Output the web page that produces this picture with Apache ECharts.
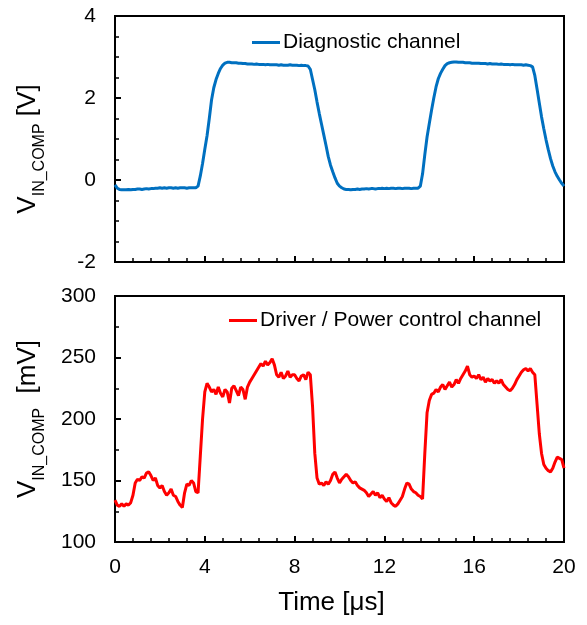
<!DOCTYPE html>
<html><head><meta charset="utf-8">
<script src="https://cdn.jsdelivr.net/npm/echarts@6/dist/echarts.min.js"></script>
<style>html,body{margin:0;padding:0;background:#fff}#c{width:587px;height:625px}</style>
</head><body><div id="c"></div><script>
// sample spacing of the traces, in µs (time of sample i = i * timeStep)
const timeStep = 0.1;

// Diagnostic channel, V_IN_COMP [V]
const diagnostic = [
-0.12,-0.2,-0.23,-0.24,-0.24,-0.24,-0.23,-0.24,-0.23,-0.23,
-0.22,-0.22,-0.23,-0.22,-0.21,-0.22,-0.21,-0.21,-0.2,-0.2,
-0.19,-0.2,-0.19,-0.2,-0.19,-0.19,-0.2,-0.19,-0.2,-0.19,
-0.19,-0.19,-0.2,-0.19,-0.19,-0.19,-0.19,-0.15,0.1,0.4,
0.75,1.08,1.5,1.95,2.25,2.45,2.6,2.72,2.8,2.85,
2.87,2.87,2.86,2.86,2.86,2.85,2.85,2.84,2.84,2.83,
2.83,2.83,2.82,2.83,2.82,2.82,2.82,2.81,2.82,2.81,
2.81,2.81,2.81,2.8,2.81,2.8,2.8,2.8,2.81,2.8,
2.8,2.8,2.79,2.8,2.79,2.79,2.78,2.7,2.45,2.2,
1.9,1.62,1.36,1.1,0.84,0.57,0.36,0.2,0.05,-0.08,
-0.15,-0.19,-0.22,-0.23,-0.23,-0.24,-0.23,-0.23,-0.22,-0.23,
-0.22,-0.22,-0.21,-0.22,-0.21,-0.21,-0.22,-0.21,-0.21,-0.2,
-0.21,-0.2,-0.21,-0.2,-0.2,-0.21,-0.2,-0.2,-0.21,-0.2,
-0.2,-0.2,-0.21,-0.2,-0.2,-0.2,-0.15,0.15,0.62,1.05,
1.38,1.7,2.0,2.27,2.47,2.6,2.7,2.79,2.84,2.86,
2.87,2.88,2.88,2.87,2.87,2.87,2.86,2.86,2.86,2.85,
2.85,2.85,2.85,2.84,2.84,2.84,2.83,2.84,2.83,2.83,
2.83,2.82,2.83,2.82,2.82,2.82,2.81,2.82,2.81,2.81,
2.81,2.81,2.8,2.81,2.8,2.79,2.76,2.55,2.22,1.88,
1.54,1.25,0.98,0.74,0.52,0.34,0.2,0.09,0.0,-0.08,
-0.15
];

// Driver / Power control channel, V_IN_COMP [mV]
const driver = [
134,130,129,131,129,131,130,132,138,148,
151,150,153,152,156,157,154,150,152,146,
144,146,141,138,140,143,138,137,133,130,
128,140,147,146,150,148,141,140,170,200,
222,229,226,222,224,220,226,221,218,224,
222,213,225,227,223,219,226,224,216,226,
230,233,236,239,242,245,243,247,244,246,
249,244,236,234,238,233,235,239,234,236,
236,233,231,235,236,232,238,236,210,172,
152,147,148,146,149,147,150,155,157,152,
148,151,153,155,153,150,148,149,146,144,
143,142,140,137,139,141,138,140,136,138,
135,133,136,132,130,129,131,134,137,143,
148,147,143,141,140,138,137,135,172,205,
215,220,221,224,222,226,228,224,227,230,
226,228,232,229,233,236,239,243,236,234,
235,233,236,232,234,230,233,231,232,229,
231,229,232,228,226,224,223,225,228,232,
235,238,240,241,239,241,238,236,212,188,
172,163,160,158,157,160,165,169,168,167,
160
];

const seriesNames = ['Diagnostic channel', 'Driver / Power control channel'];
const xRange = {min: 0, max: 20, interval: 4};
const topY = {min: -2, max: 4, interval: 2};
const bottomY = {min: 100, max: 300, interval: 50};

const FONT = '"Liberation Sans", Arial, sans-serif';
const toPairs = arr => arr.map((v, i) => [Math.round(i * timeStep * 10) / 10, v]);

function axisBase(minorSplit) {
  return {
    axisLine: {show: true, onZero: false, lineStyle: {color: '#000', width: 2}},
    axisTick: {show: true, inside: true, length: 6, lineStyle: {color: '#000', width: 2}},
    minorTick: {show: true, splitNumber: minorSplit, length: 4, lineStyle: {color: '#000', width: 1.5}},
    splitLine: {show: false},
    minorSplitLine: {show: false},
    axisLabel: {fontSize: 21, color: '#000', fontFamily: FONT}
  };
}

const richName = {
  v: {fontSize: 26, color: '#000', fontFamily: FONT},
  s: {fontSize: 16, color: '#000', fontFamily: FONT, padding: [24, 0, 0, 0]}
};

const legendBase = {
  orient: 'horizontal', itemWidth: 28, itemHeight: 3, icon: 'rect', selectedMode: false,
  padding: 0, right: 'auto', width: 'auto', height: 24,
  textStyle: {fontSize: 21, color: '#000', fontFamily: FONT, padding: [0, 0, 0, -2]}
};

const chart = echarts.init(document.getElementById('c'), null, {renderer: 'canvas'});
chart.setOption({
  animation: false,
  backgroundColor: '#fff',
  grid: [
    {left: 115, top: 16, width: 449, height: 246, show: true, borderColor: '#000', borderWidth: 2},
    {left: 115, top: 296, width: 449, height: 246, show: true, borderColor: '#000', borderWidth: 2}
  ],
  legend: [
    Object.assign({}, legendBase, {id: 'lg0', data: [seriesNames[0]], left: 252, top: 32, bottom: 569}),
    Object.assign({}, legendBase, {id: 'lg1', data: [seriesNames[1]], left: 229, top: 310, bottom: 291})
  ],
  xAxis: [
    Object.assign(axisBase(5), {type: 'value', gridIndex: 0, min: xRange.min, max: xRange.max, interval: xRange.interval,
      axisLabel: {show: false}}),
    Object.assign(axisBase(5), {type: 'value', gridIndex: 1, min: xRange.min, max: xRange.max, interval: xRange.interval,
      axisLabel: {fontSize: 21, color: '#000', fontFamily: FONT, margin: 15},
      name: 'Time [μs]', nameLocation: 'middle', nameGap: 48,
      nameTextStyle: {fontSize: 26, color: '#000', fontFamily: FONT, padding: [0, 16, 0, 0]}})
  ],
  yAxis: [
    Object.assign(axisBase(4), {type: 'value', gridIndex: 0, min: topY.min, max: topY.max, interval: topY.interval,
      axisLabel: {fontSize: 21, color: '#000', fontFamily: FONT, margin: 19},
      name: '{v|V}{s|IN_COMP}{v| [V]}', nameLocation: 'middle', nameRotate: 90, nameGap: 67,
      nameTextStyle: {rich: richName, padding: [0, 20, 0, 0]}}),
    Object.assign(axisBase(2), {type: 'value', gridIndex: 1, min: bottomY.min, max: bottomY.max, interval: bottomY.interval,
      axisLabel: {fontSize: 21, color: '#000', fontFamily: FONT, margin: 19},
      name: '{v|V}{s|IN_COMP}{v|  [mV]}', nameLocation: 'middle', nameRotate: 90, nameGap: 67,
      nameTextStyle: {rich: richName}})
  ],
  series: [
    {name: seriesNames[0], type: 'line', xAxisIndex: 0, yAxisIndex: 0, data: toPairs(diagnostic),
     symbol: 'none', lineStyle: {color: '#0070C0', width: 3}, itemStyle: {color: '#0070C0'}},
    {name: seriesNames[1], type: 'line', xAxisIndex: 1, yAxisIndex: 1, data: toPairs(driver),
     symbol: 'none', lineStyle: {color: '#FF0000', width: 3}, itemStyle: {color: '#FF0000'}}
  ]
});
</script></body></html>
